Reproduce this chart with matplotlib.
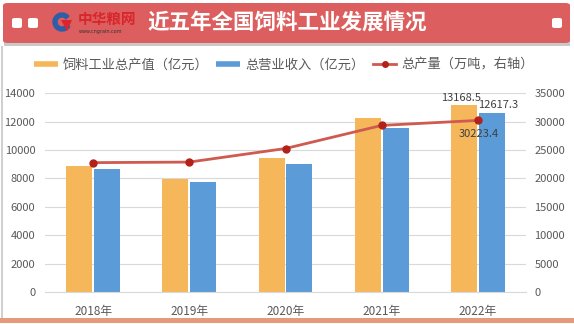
import numpy as np
import matplotlib
matplotlib.use("Agg")
import matplotlib.pyplot as plt
from matplotlib.patches import FancyBboxPatch, Rectangle, Wedge, Polygon
from matplotlib.lines import Line2D
from matplotlib.transforms import IdentityTransform

plt.rcParams['font.family'] = ['Noto Sans CJK SC', 'DejaVu Sans']

# data
years = ['2018年', '2019年', '2020年', '2021年', '2022年']
output_value = [8872.0, 7968.0, 9463.1, 12234.1, 13168.5]   # 饲料工业总产值（亿元）
revenue = [8689.0, 7716.0, 9003.0, 11581.0, 12617.3]        # 总营业收入（亿元）
production = [22788.4, 22885.4, 25276.1, 29344.3, 30223.4]  # 总产量（万吨）

left_ticks = [0, 2000, 4000, 6000, 8000, 10000, 12000, 14000]
right_ticks = [0, 5000, 10000, 15000, 20000, 25000, 30000, 35000]

GOLD = '#f5b75a'
BLUE = '#5b9bd8'
LINE = '#cf5a50'
DOT = '#b2221a'
TXT = '#595959'

W, H = 574, 324
fig = plt.figure(figsize=(W / 100, H / 100), dpi=100)


def px(x, y):
    # pixel coords (top-left origin) -> figure fraction
    return x / W, 1 - y / H


# frame: light gray left edge, salmon bottom line
fig.add_artist(Rectangle(px(1, 318), 1.5 / W, 272 / H, transform=fig.transFigure,
                         color='#d0d0d0', lw=0))
fig.add_artist(Rectangle(px(0, 323), 1, 5 / H, transform=fig.transFigure,
                         color='#e59a7c', lw=0))

# header band
fig.add_artist(Rectangle(px(4, 46), 566 / W, 42 / H, transform=fig.transFigure,
                         color='#c9c9c9', lw=0))
fig.add_artist(FancyBboxPatch(px(3, 43), 567 / W, 40 / H, transform=fig.transFigure,
                              boxstyle='round,pad=0,rounding_size=0.008',
                              color='#dd5e5e', lw=0))
for sx in [12, 28, 552]:
    fig.add_artist(FancyBboxPatch(px(sx, 28), 10 / W, 10 / H, transform=fig.transFigure,
                                  boxstyle='round,pad=0,rounding_size=0.005',
                                  color='white', lw=0))

# logo
fig.add_artist(Wedge((62, H - 22), 9, 40, 330, width=4,
                     transform=IdentityTransform(), color='#2f5da8'))
fig.add_artist(Polygon([px(61, 20), px(72, 20), px(67, 31)], closed=True,
                       transform=fig.transFigure, color='#d8262c', lw=0))
fig.text(*px(78, 19), '中华粮网', color='#d8262c', fontsize=10.5, fontweight='bold',
         va='center', ha='left')
fig.text(*px(79, 31), 'www.cngrain.com', color='#333333', fontsize=3.5,
         va='center', ha='left', family='DejaVu Sans')
fig.text(*px(147, 22), '近五年全国饲料工业发展情况', color='white', fontsize=15.5,
         fontweight='bold', va='center', ha='left')

# chart axes
x0, x1, yb, yt = 45, 526, 292, 93.3
ax = fig.add_axes([x0 / W, 1 - yb / H, (x1 - x0) / W, (yb - yt) / H])
x = np.arange(len(years))
bw = 0.27
ax.bar(x - 0.145, output_value, width=bw, color=GOLD, zorder=2)
ax.bar(x + 0.145, revenue, width=bw, color=BLUE, zorder=2)
ax.set_xlim(-0.5, len(years) - 0.5)
ax.set_ylim(0, 14000)
ax.set_yticks(left_ticks)
ax.set_xticks(x)
ax.set_xticklabels(years)
ax.grid(axis='y', color='#d9d9d9', lw=0.8, zorder=0)
for s in ['top', 'right', 'left']:
    ax.spines[s].set_visible(False)
ax.spines['bottom'].set_color('#d9d9d9')
ax.tick_params(axis='both', length=0, colors=TXT, labelsize=8)
ax.tick_params(axis='y', pad=7)
ax.tick_params(axis='x', pad=9, labelsize=8.5)

ax2 = ax.twinx()
ax2.plot(x, production, color=LINE, lw=2, marker='o', markersize=5,
         markerfacecolor=DOT, markeredgecolor=DOT, zorder=3)
ax2.set_ylim(0, 35000)
ax2.set_yticks(right_ticks)
for s in ax2.spines.values():
    s.set_visible(False)
ax2.tick_params(axis='y', length=0, colors=TXT, labelsize=8, pad=6)

# data labels for 2022
ax.text(x[-1] - 0.17, output_value[-1] + 150, '13168.5', ha='center', va='bottom',
        fontsize=8, color='#404040')
ax.text(x[-1] + 0.21, revenue[-1] + 200, '12617.3', ha='center', va='bottom',
        fontsize=8, color='#404040')
ax2.text(x[-1] + 0.01, production[-1] - 1500, '30223.4', ha='center', va='top',
         fontsize=8, color='#404040')

# legend
handles = [
    Line2D([], [], color=GOLD, lw=4, solid_capstyle='butt'),
    Line2D([], [], color=BLUE, lw=4, solid_capstyle='butt'),
    Line2D([], [], color=LINE, lw=2, marker='o', markersize=4,
           markerfacecolor=DOT, markeredgecolor=DOT),
]
labels = ['饲料工业总产值（亿元）', '总营业收入（亿元）', '总产量（万吨，右轴）']
fig.legend(handles, labels, loc='center', bbox_to_anchor=(284 / W, 1 - 65 / H),
           ncol=3, frameon=False, fontsize=9.5, handlelength=1.8,
           handletextpad=0.4, columnspacing=0.6, labelcolor=TXT)

fig.savefig('out.png', dpi=100)
